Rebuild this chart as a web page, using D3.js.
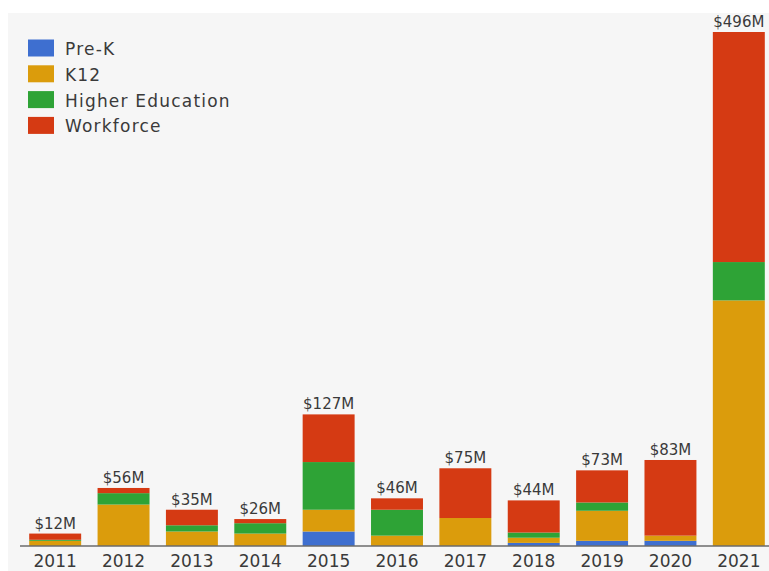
<!DOCTYPE html>
<html>
<head>
<meta charset="utf-8">
<script src="https://cdn.jsdelivr.net/npm/d3@7"></script>
<style>
  html, body { margin: 0; padding: 0; background: #ffffff; }
  svg { display: block; }
</style>
</head>
<body>
<svg id="chart" width="769" height="571"></svg>
<script>
const years = ["2011","2012","2013","2014","2015","2016","2017","2018","2019","2020","2021"];
const seriesNames = ["Pre-K","K12","Higher Education","Workforce"];
const preK      = [0, 0, 0, 0, 14, 0, 0, 3, 5, 5, 0];
const k12       = [5, 40, 14, 12, 21, 10, 27, 5, 29, 5, 237];
const higherEd  = [1, 11, 6, 10, 46, 25, 0, 5, 8, 0, 37];
const workforce = [6, 5, 15, 4, 46, 11, 48, 31, 31, 73, 222];
const totalLabels = ["$12M","$56M","$35M","$26M","$127M","$46M","$75M","$44M","$73M","$83M","$496M"];
const colors = ["#3e6fd0", "#db9c0c", "#2ea336", "#d53a13"];

const rows = years.map((y, i) => ({
  year: y,
  "Pre-K": preK[i],
  "K12": k12[i],
  "Higher Education": higherEd[i],
  "Workforce": workforce[i],
  label: totalLabels[i]
}));

const FONT = "'DejaVu Sans', Verdana, sans-serif";
const svg = d3.select("#chart");
const W = 769, H = 571;

svg.append("rect").attr("x", 8).attr("y", 13).attr("width", W - 8).attr("height", H - 13).attr("fill", "#f6f6f6");

const x = d3.scaleBand().domain(years).range([21, 773]).paddingInner(0.24).paddingOuter(0.12);
const y = d3.scaleLinear().domain([0, 496]).range([546, 32]);
const color = d3.scaleOrdinal().domain(seriesNames).range(colors);

const stacked = d3.stack().keys(seriesNames)(rows);

svg.append("g").selectAll("g").data(stacked).join("g")
  .attr("fill", d => color(d.key))
  .selectAll("rect").data(d => d).join("rect")
  .attr("x", d => x(d.data.year))
  .attr("width", x.bandwidth())
  .attr("y", d => y(d[1]))
  .attr("height", d => y(d[0]) - y(d[1]));

// baseline axis
const xAxis = d3.axisBottom(x).tickSize(0).tickPadding(9);
const ax = svg.append("g").attr("transform", `translate(0,${y(0)})`).call(xAxis);
ax.select(".domain").attr("stroke", "#6b6b6b").attr("stroke-width", 1.5).attr("d", "M20,0H769");
ax.selectAll("text").attr("font-family", FONT).attr("font-size", 17).attr("fill", "#3a3a3a")
  .attr("y", 21).attr("dy", 0);

// totals
const totals = rows.map((r, i) => preK[i] + k12[i] + higherEd[i] + workforce[i]);
svg.append("g").selectAll("text").data(rows).join("text")
  .attr("x", d => x(d.year) + x.bandwidth() / 2)
  .attr("y", (d, i) => y(totals[i]) - 5)
  .attr("text-anchor", "middle")
  .attr("font-family", FONT)
  .attr("font-size", 15)
  .attr("fill", "#3a3a3a")
  .text(d => d.label);

// legend
const lg = svg.append("g");
seriesNames.forEach((s, i) => {
  const yy = 39.5 + i * 25.8;
  lg.append("rect").attr("x", 28).attr("y", yy).attr("width", 26).attr("height", 17).attr("fill", color(s));
  lg.append("text").attr("x", 65).attr("y", yy + 15.5)
    .attr("font-family", FONT).attr("font-size", 17).attr("letter-spacing", 1.2).attr("fill", "#3a3a3a")
    .text(s);
});
</script>
</body>
</html>
